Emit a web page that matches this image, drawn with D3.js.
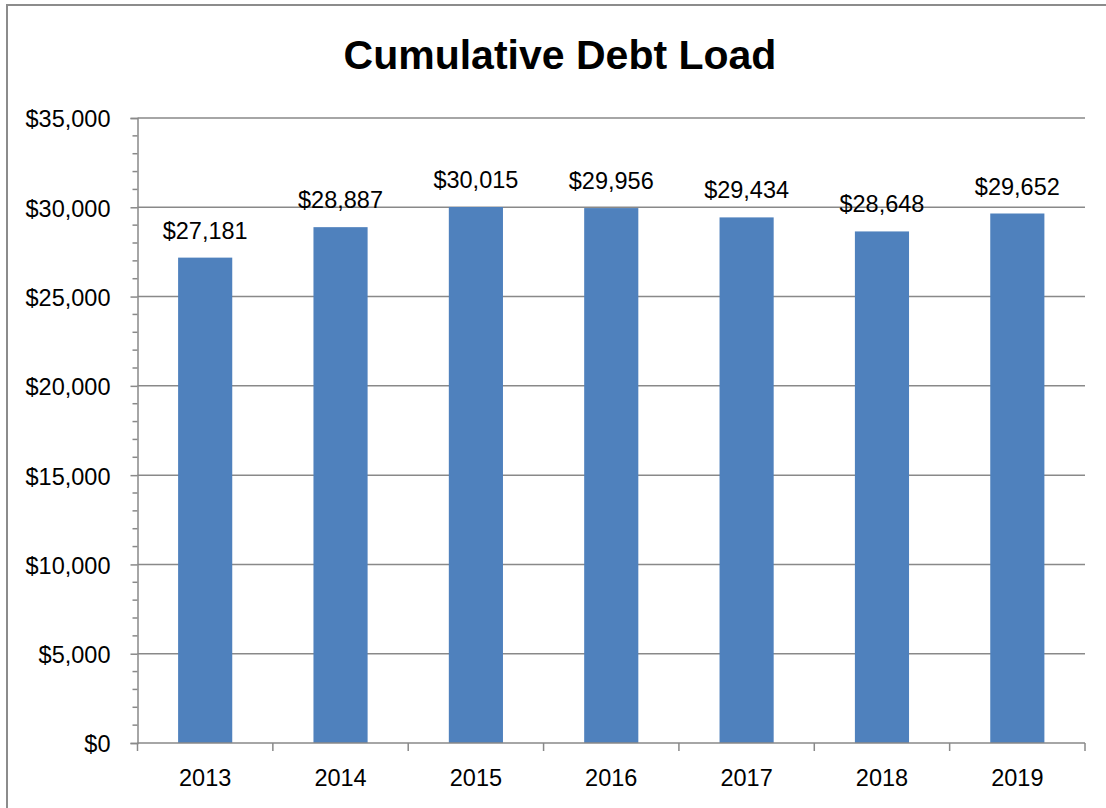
<!DOCTYPE html>
<html><head><meta charset="utf-8">
<script src="https://cdn.jsdelivr.net/npm/d3@7"></script>
<style>html,body{margin:0;padding:0;background:#fff;} svg{display:block;}</style>
</head><body>
<svg id="c" width="1106" height="808"></svg>
<script>
const categories = ["2013","2014","2015","2016","2017","2018","2019"];
const debtValues = [27181, 28887, 30015, 29956, 29434, 28648, 29652];
const yTicks = [0, 5000, 10000, 15000, 20000, 25000, 30000, 35000];
const minorTicks = d3.range(0, 35001, 1000);
const title = "Cumulative Debt Load";

(function () {
const svg = d3.select("#c");
const font = "'Liberation Sans', Arial, sans-serif";
const gridColor = "#898989";
const pLeft = 137.5, pRight = 1085, pTop = 118, pBottom = 743;

svg.append("rect").attr("x", 7).attr("y", 5).attr("width", 1120).attr("height", 830)
  .attr("fill", "#fff").attr("stroke", "#8c8c8c").attr("stroke-width", 2);

const x = d3.scaleBand().domain(categories).range([pLeft, pRight]).paddingInner(0.6).paddingOuter(0.3);
const xb = d3.scaleBand().domain(categories).range([pLeft, pRight]);
const y = d3.scaleLinear().domain([0, 35000]).range([pBottom, pTop]);

// gridlines
svg.append("g").selectAll("line").data(yTicks.filter(d => d > 0)).join("line")
  .attr("x1", pLeft).attr("x2", pRight).attr("y1", d => y(d)).attr("y2", d => y(d))
  .attr("stroke", gridColor).attr("stroke-width", 1.5);

// bars
svg.append("g").selectAll("rect").data(debtValues).join("rect")
  .attr("x", (d, i) => x(categories[i])).attr("width", x.bandwidth())
  .attr("y", d => y(d)).attr("height", d => y(0) - y(d))
  .attr("fill", "#4F81BD");

// y axis
const yAxis = d3.axisLeft(y).tickValues(yTicks).tickSize(7).tickPadding(20)
  .tickFormat(d => "$" + d3.format(",")(d));
const ga = svg.append("g").attr("transform", `translate(${pLeft},0)`).call(yAxis);
ga.select(".domain").attr("stroke", gridColor).attr("stroke-width", 1.5);
ga.selectAll(".tick line").attr("stroke", gridColor).attr("stroke-width", 1.5);
ga.selectAll(".tick text").attr("font-family", font).attr("font-size", 23.5).attr("fill", "#000").attr("dy", "0.38em");
svg.append("g").selectAll("line").data(minorTicks.filter(d => d % 5000 !== 0)).join("line")
  .attr("x1", pLeft - 5).attr("x2", pLeft).attr("y1", d => y(d)).attr("y2", d => y(d))
  .attr("stroke", gridColor).attr("stroke-width", 1.5);

// x axis
const xAxis = d3.axisBottom(xb).tickSize(0).tickPadding(0);
const gx = svg.append("g").attr("transform", `translate(0,${pBottom})`).call(xAxis);
gx.select(".domain").remove();
gx.selectAll(".tick text").attr("font-family", font).attr("font-size", 23.5).attr("fill", "#000")
  .attr("y", 43).attr("dy", null);
svg.append("line").attr("x1", pLeft).attr("x2", pRight).attr("y1", pBottom).attr("y2", pBottom)
  .attr("stroke", gridColor).attr("stroke-width", 1.5);
const bounds = categories.map(c => xb(c)).concat([pRight]);
svg.append("g").selectAll("line").data(bounds).join("line")
  .attr("x1", d => d).attr("x2", d => d).attr("y1", pBottom).attr("y2", pBottom + 8)
  .attr("stroke", gridColor).attr("stroke-width", 1.5);

// value labels
svg.append("g").selectAll("text").data(debtValues).join("text")
  .attr("x", (d, i) => x(categories[i]) + x.bandwidth() / 2)
  .attr("y", d => y(d) - 19)
  .attr("text-anchor", "middle").attr("font-family", font).attr("font-size", 23.5)
  .text(d => "$" + d3.format(",")(d));

// title
svg.append("text").attr("x", 560).attr("y", 69).attr("text-anchor", "middle")
  .attr("font-family", font).attr("font-weight", "bold").attr("font-size", 41).text(title);
})();
</script>
</body></html>
